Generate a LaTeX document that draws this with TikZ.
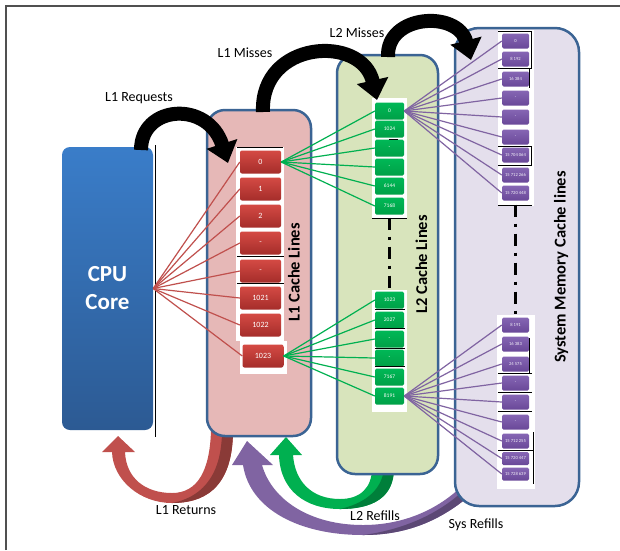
\documentclass[tikz,border=0pt]{standalone}
\usepackage{fontspec}
\setmainfont{Carlito}
\usetikzlibrary{arrows.meta}
\definecolor{boxblue}{HTML}{3B6494}
\definecolor{lonefill}{HTML}{E6B8B7}
\definecolor{ltwofill}{HTML}{D8E4BC}
\definecolor{memfill}{HTML}{E4DFEC}
\definecolor{lonetop}{HTML}{D44A44}
\definecolor{lonebot}{HTML}{A52D2A}
\definecolor{ltwotop}{HTML}{00B856}
\definecolor{ltwobot}{HTML}{00A047}
\definecolor{memtop}{HTML}{8666B4}
\definecolor{membot}{HTML}{694898}
\definecolor{cputop}{HTML}{3A7DC9}
\definecolor{cpubot}{HTML}{2C5A93}
\definecolor{redc}{HTML}{C0504D}
\definecolor{greenc}{HTML}{00B050}
\definecolor{purplec}{HTML}{8064A2}
\definecolor{framec}{HTML}{505050}
\begin{document}
\begin{tikzpicture}[x=1pt,y=-1pt,
  cachebox/.style={draw=boxblue, line width=2.5pt, rounded corners=18pt, inner sep=0pt},
  lonecell/.style={rounded corners=2pt, top color=lonetop, bottom color=lonebot, draw=none,
    minimum width=41pt, minimum height=23pt, inner sep=0pt, text=white, font=\fontsize{8}{9}\selectfont},
  ltwocell/.style={rounded corners=1.5pt, top color=ltwotop, bottom color=ltwobot, draw=none,
    minimum width=29pt, minimum height=17pt, inner sep=0pt, text=white, font=\fontsize{5.5}{6}\selectfont},
  memcell/.style={rounded corners=1.5pt, top color=memtop, bottom color=membot, draw=none,
    minimum width=27pt, minimum height=15pt, inner sep=0pt, text=white!90!memtop, font=\fontsize{4.6}{5}\selectfont},
  redline/.style={draw=redc, line width=1.2pt},
  greenline/.style={draw=greenc, line width=1.2pt},
  purpleline/.style={draw=purplec, line width=1.2pt},
  toparrow/.style={draw=black, line width=14pt, -{Triangle[width=31pt,length=20pt]}},
  vlabel/.style={rotate=90, font=\bfseries\fontsize{16.5}{17}\selectfont, inner sep=0pt},
  flowlabel/.style={font=\fontsize{14}{16}\selectfont, inner sep=0pt},
  dashdot/.style={line width=3.5pt, dash pattern=on 12pt off 7pt on 3pt off 7pt},
  stray/.style={draw=black, line width=0.9pt}
]
\useasboundingbox (0,0) rectangle (620,550);
\fill[white] (0,0) rectangle (620,550);
\draw[framec, line width=1.6pt] (6,550) -- (6,6) -- (620,6);

% ---- bottom return / refill arrows (tapered block arrows, behind the boxes)
% L1 Returns
\fill[redc] (233,430) .. controls (233,492) and (200,503) .. (172,503)
  .. controls (140,503) and (113,480) .. (112,452) -- (102,452) -- (118,436) -- (135,452) -- (125,452)
  .. controls (126,478) and (145,493) .. (172,493) .. controls (198,493) and (210,470) .. (211,430) -- cycle;
\fill[redc!72!black] (233,430) .. controls (233,492) and (200,503) .. (172,503)
  .. controls (198,498) and (222,480) .. (222,430) -- cycle;
% L2 Refills
\fill[greenc] (394,468) .. controls (394,498) and (372,509) .. (340,509)
  .. controls (305,509) and (280,490) .. (279,455) -- (270,455) -- (286,437) -- (302,455) -- (293,455)
  .. controls (295,482) and (312,499) .. (340,499) .. controls (360,499) and (372,488) .. (372,468) -- cycle;
\fill[greenc!72!black] (394,468) .. controls (394,498) and (372,509) .. (340,509)
  .. controls (362,504) and (382,492) .. (384,468) -- cycle;
% Sys Refills
\fill[purplec] (474,492) .. controls (440,522) and (405,535) .. (363,535)
  .. controls (300,535) and (250,510) .. (243,465) -- (232,465) -- (247,441) -- (273,465) -- (262,465)
  .. controls (272,500) and (310,525) .. (363,525) .. controls (400,525) and (435,512) .. (462,486) -- cycle;
\fill[purplec!72!black] (474,492) .. controls (440,522) and (405,535) .. (363,535)
  .. controls (402,530) and (440,514) .. (466,488) -- cycle;

% ---- CPU
\node[rounded corners=8pt, top color=cputop, bottom color=cpubot, minimum width=91pt, minimum height=283pt,
  inner sep=0pt, align=center, text=white, font=\bfseries\fontsize{23}{28}\selectfont] (cpu) at (107.5,288.5) {CPU\\Core};
\draw[black, line width=0.8pt] (155.5,145) -- (155.5,437);

% ---- cache boxes
\node[cachebox, fill=lonefill, minimum width=104pt, minimum height=326pt] (l1box) at (259,273) {};
\node[cachebox, fill=ltwofill, minimum width=101pt, minimum height=419pt] (l2box) at (387.5,264.5) {};
\node[cachebox, fill=memfill, rounded corners=24pt, minimum width=124pt, minimum height=478pt] (membox) at (517,267) {};

% ---- white backdrops behind the cell columns
\fill[white] (236,147) rectangle (284,341);
\fill[white] (240,341) rectangle (287,374);
\fill[white] (372,98) rectangle (407,219);
\fill[white] (372,290) rectangle (407,412);
\fill[white] (498,30) rectangle (534,206);
\fill[white] (497,315) rectangle (535,489);

% ---- L1 cells
\foreach \t/\y [count=\i from 0] in {0/162,1/189,2/216,-/243,-/271,1021/298,1022/325}
  \node[lonecell] (l1c\i) at (260.5,\y) {\t};
\node[lonecell] (l1c7) at (263,356) {1023};

% ---- L2 cells
\foreach \t/\y [count=\i from 0] in {0/111,1024/129,-/148,-/167,6144/186,7168/206}
  \node[ltwocell] (l2a\i) at (389.5,\y) {\t};
\foreach \t/\y [count=\i from 0] in {1023/300,2027/320,-/339,-/358,7167/377,8191/396}
  \node[ltwocell] (l2b\i) at (389.5,\y) {\t};

% ---- memory cells
\foreach \t/\y [count=\i from 0] in {0/41,8 192/59,16 384/79,-/98,-/117,-/137,15 704 064/155,15 712 266/175,15 720 448/193}
  \node[memcell] (ma\i) at (515.5,\y) {\t};
\foreach \t/\y [count=\i from 0] in {8 191/325,16 383/344,24 575/364,-/383,-/402,-/422,15 712 255/441}
  \node[memcell] (mb\i) at (515.5,\y) {\t};
\node[memcell, minimum height=13pt] (mb7) at (515.5,458.5) {15 720 447};
\node[memcell, minimum height=13pt] (mb8) at (515.5,474) {15 728 639};

% ---- fan-out lines
\foreach \i in {0,...,7} \draw[redline] (cpu.east) -- (l1c\i.west);
\foreach \i in {0,...,5} {
  \draw[greenline] (l1c0.east) -- (l2a\i.west);
  \draw[greenline] (l1c7.east) -- (l2b\i.west);
}
\foreach \i in {0,...,8} {
  \draw[purpleline] (l2a0.east) -- (ma\i.west);
  \draw[purpleline] (l2b5.east) -- (mb\i.west);
}

% ---- stray black rules of the cell columns
\draw[stray] (237,147) -- (283,147);
\draw[stray] (237,256.5) -- (284,256.5);
\draw[stray] (237,283.5) -- (284,283.5);
\draw[stray] (372,218.5) -- (407,218.5);
\draw[stray] (389,139) -- (398,139);
\foreach \y in {309.5,328.5,348.5,366.5} \draw[stray] (375,\y) -- (405,\y);
\draw[stray] (498,31.5) -- (531,31.5) -- (531,68.5) -- (498,68.5);
\draw[stray] (529,68.5) -- (529,88);
\draw[stray] (498,146.5) -- (531,146.5) -- (531,165.5) -- (498,165.5);
\draw[stray] (498,205.5) -- (532,205.5);
\draw[stray] (529,338) -- (529,373);
\draw[stray] (498,373.5) -- (532,373.5);
\draw[stray] (498,392.5) -- (532,392.5);
\draw[stray] (498,411.5) -- (532,411.5);
\draw[stray] (533,432) -- (533,484);
\draw[stray] (498,450.5) -- (533,450.5);

% ---- dash-dot continuation marks
\draw[dashdot] (l2a5.south) ++(0,3) -- (l2b0.north);
\draw[dashdot] (ma8.south) ++(0,4) -- (mb0.north);

% ---- vertical labels
\node[vlabel] (l1lab) at (294,272.5) {L1 Cache Lines};
\node[vlabel] (l2lab) at (421.5,264.5) {L2 Cache Lines};
\node[vlabel] (memlab) at (561,267) {System Memory Cache lines};

% ---- top miss arrows
\coordinate (reqS) at (141,150);
\coordinate (reqE) at (228,163);
\draw[toparrow] (reqS) .. controls (141,105) and (208,100) .. (reqE);
\coordinate (m1S) at (263,112);
\coordinate (m1E) at (377,100);
\draw[toparrow] (m1S) .. controls (260,40) and (362,34) .. (m1E);
\coordinate (m2S) at (388,57);
\coordinate (m2E) at (471,60);
\draw[toparrow] (m2S) .. controls (386,14) and (458,10) .. (m2E);

% ---- flow labels
\node[flowlabel] (reqlab) at (139,98) {L1 Requests};
\node[flowlabel] (m1lab) at (245,53) {L1 Misses};
\node[flowlabel] (m2lab) at (357,33) {L2 Misses};
\node[flowlabel] (retlab) at (186,510) {L1 Returns};
\node[flowlabel] (l2rlab) at (375,516) {L2 Refills};
\node[flowlabel] (syslab) at (476,525) {Sys Refills};
\end{tikzpicture}
\end{document}
